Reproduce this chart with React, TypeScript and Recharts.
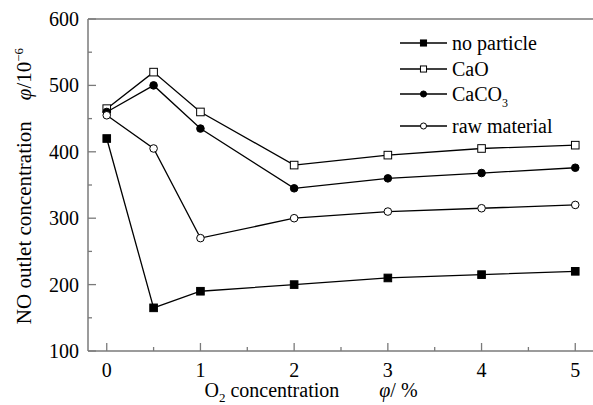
import React from 'react';
import { LineChart, Line, XAxis, YAxis, ReferenceLine } from 'recharts';

const o2Levels = [0, 0.5, 1, 2, 3, 4, 5];
const noParticle = [420, 165, 190, 200, 210, 215, 220];
const caO = [465, 520, 460, 380, 395, 405, 410];
const caCO3 = [460, 500, 435, 345, 360, 368, 376];
const rawMaterial = [455, 405, 270, 300, 310, 315, 320];

const xTicks = [0, 0.5, 1, 1.5, 2, 2.5, 3, 3.5, 4, 4.5, 5];
const yTicks = [100, 150, 200, 250, 300, 350, 400, 450, 500, 550, 600];

const data = o2Levels.map((x, i) => ({
  x,
  noParticle: noParticle[i],
  caO: caO[i],
  caCO3: caCO3[i],
  raw: rawMaterial[i],
}));

const AXIS = '#7a7a7a';
const SERIF = 'Liberation Serif';

type Shape = 'filledSquare' | 'openSquare' | 'filledCircle' | 'openCircle';

const Marker = ({ cx, cy, shape, s = 1 }: { cx: number; cy: number; shape: Shape; s?: number }) => {
  if (cx == null || cy == null) return null;
  if (shape === 'filledSquare' || shape === 'openSquare') {
    const h = 3.8 * s;
    return (
      <rect x={cx - h} y={cy - h} width={2 * h} height={2 * h}
        fill={shape === 'filledSquare' ? '#000' : '#fff'} stroke="#000" strokeWidth={1} />
    );
  }
  return (
    <circle cx={cx} cy={cy} r={3.8 * s}
      fill={shape === 'filledCircle' ? '#000' : '#fff'} stroke="#000" strokeWidth={1} />
  );
};

const makeDot = (shape: Shape) => (props: any) => (
  <Marker key={`${shape}-${props.index}`} cx={props.cx} cy={props.cy} shape={shape} />
);

const XTick = (props: any) => {
  const { x, y, payload } = props;
  const v = payload.value;
  const major = Number.isInteger(v);
  return (
    <g>
      <line x1={x} x2={x} y1={y} y2={y - (major ? 8 : 4)} stroke={AXIS} strokeWidth={1.3} />
      {major && (
        <text x={x} y={y + 26} textAnchor="middle" fontFamily={SERIF} fontSize={20} fill="#000">
          {v}
        </text>
      )}
    </g>
  );
};

const YTick = (props: any) => {
  const { x, y, payload } = props;
  const v = payload.value;
  const major = v % 100 === 0;
  return (
    <g>
      <line x1={x} x2={x + (major ? 8 : 4)} y1={y} y2={y} stroke={AXIS} strokeWidth={1.3} />
      {major && (
        <text x={x - 9} y={y} dy="0.35em" textAnchor="end" fontFamily={SERIF} fontSize={20} fill="#000">
          {v}
        </text>
      )}
    </g>
  );
};

const legendItems: { label: React.ReactNode; shape: Shape; top: number }[] = [
  { label: 'no particle', shape: 'filledSquare', top: 43 },
  { label: 'CaO', shape: 'openSquare', top: 69 },
  { label: <>CaCO<tspan fontSize={12} dy={6}>3</tspan></>, shape: 'filledCircle', top: 94 },
  { label: 'raw material', shape: 'openCircle', top: 126 },
];

export default function App() {
  return (
    <div style={{ position: 'absolute', left: 0, top: 0, width: 593, height: 405, background: '#fff', overflow: 'hidden', fontFamily: SERIF }}>
      <LineChart width={594} height={405} data={data} margin={{ top: 19, right: 0, left: 0, bottom: 0 }} style={{ fontFamily: SERIF }}>
        <XAxis
          dataKey="x"
          type="number"
          domain={[-0.2, 5.2]}
          ticks={xTicks}
          allowDataOverflow
          height={54}
          axisLine={{ stroke: AXIS, strokeWidth: 1.5 }}
          tickLine={false}
          tickSize={0}
          tickMargin={0}
          tick={<XTick />}
          interval={0}
        />
        <YAxis
          type="number"
          domain={[100, 600]}
          ticks={yTicks}
          allowDataOverflow
          width={88}
          axisLine={{ stroke: AXIS, strokeWidth: 1.5 }}
          tickLine={false}
          tickSize={0}
          tickMargin={0}
          tick={<YTick />}
          interval={0}
        />
        <ReferenceLine y={600} stroke={AXIS} strokeWidth={1.5} />
        <Line dataKey="noParticle" stroke="#000" strokeWidth={1.3} isAnimationActive={false} dot={makeDot('filledSquare')} />
        <Line dataKey="caO" stroke="#000" strokeWidth={1.3} isAnimationActive={false} dot={makeDot('openSquare')} />
        <Line dataKey="caCO3" stroke="#000" strokeWidth={1.3} isAnimationActive={false} dot={makeDot('filledCircle')} />
        <Line dataKey="raw" stroke="#000" strokeWidth={1.3} isAnimationActive={false} dot={makeDot('openCircle')} />
      </LineChart>
      <svg width={593} height={405} style={{ position: 'absolute', left: 0, top: 0, pointerEvents: 'none', fontFamily: SERIF }}>
        {legendItems.map((it, i) => (
          <g key={i}>
            <line x1={400} x2={447} y1={it.top} y2={it.top} stroke="#000" strokeWidth={1.3} />
            <Marker cx={423.5} cy={it.top} shape={it.shape} s={0.8} />
            <text x={452} y={it.top} dy="0.35em" fontFamily={SERIF} fontSize={20} fill="#000">
              {it.label}
            </text>
          </g>
        ))}
        <text transform="translate(24,186) rotate(-90)" textAnchor="middle" dy="0.35em" fontFamily={SERIF} fontSize={21} fill="#000">
          NO outlet concentration{'\u2002\u2002'}
          <tspan fontStyle="italic">φ</tspan>/10
          <tspan fontSize={13} dy={-8}>−6</tspan>
        </text>
        <text x={311} y={397} textAnchor="middle" fontFamily={SERIF} fontSize={20} fill="#000">
          O<tspan fontSize={13} dy={5}>2</tspan>
          <tspan dy={-5}> concentration{'\u2003\u2003'}</tspan>
          <tspan fontStyle="italic">φ</tspan>/ %
        </text>
      </svg>
    </div>
  );
}
